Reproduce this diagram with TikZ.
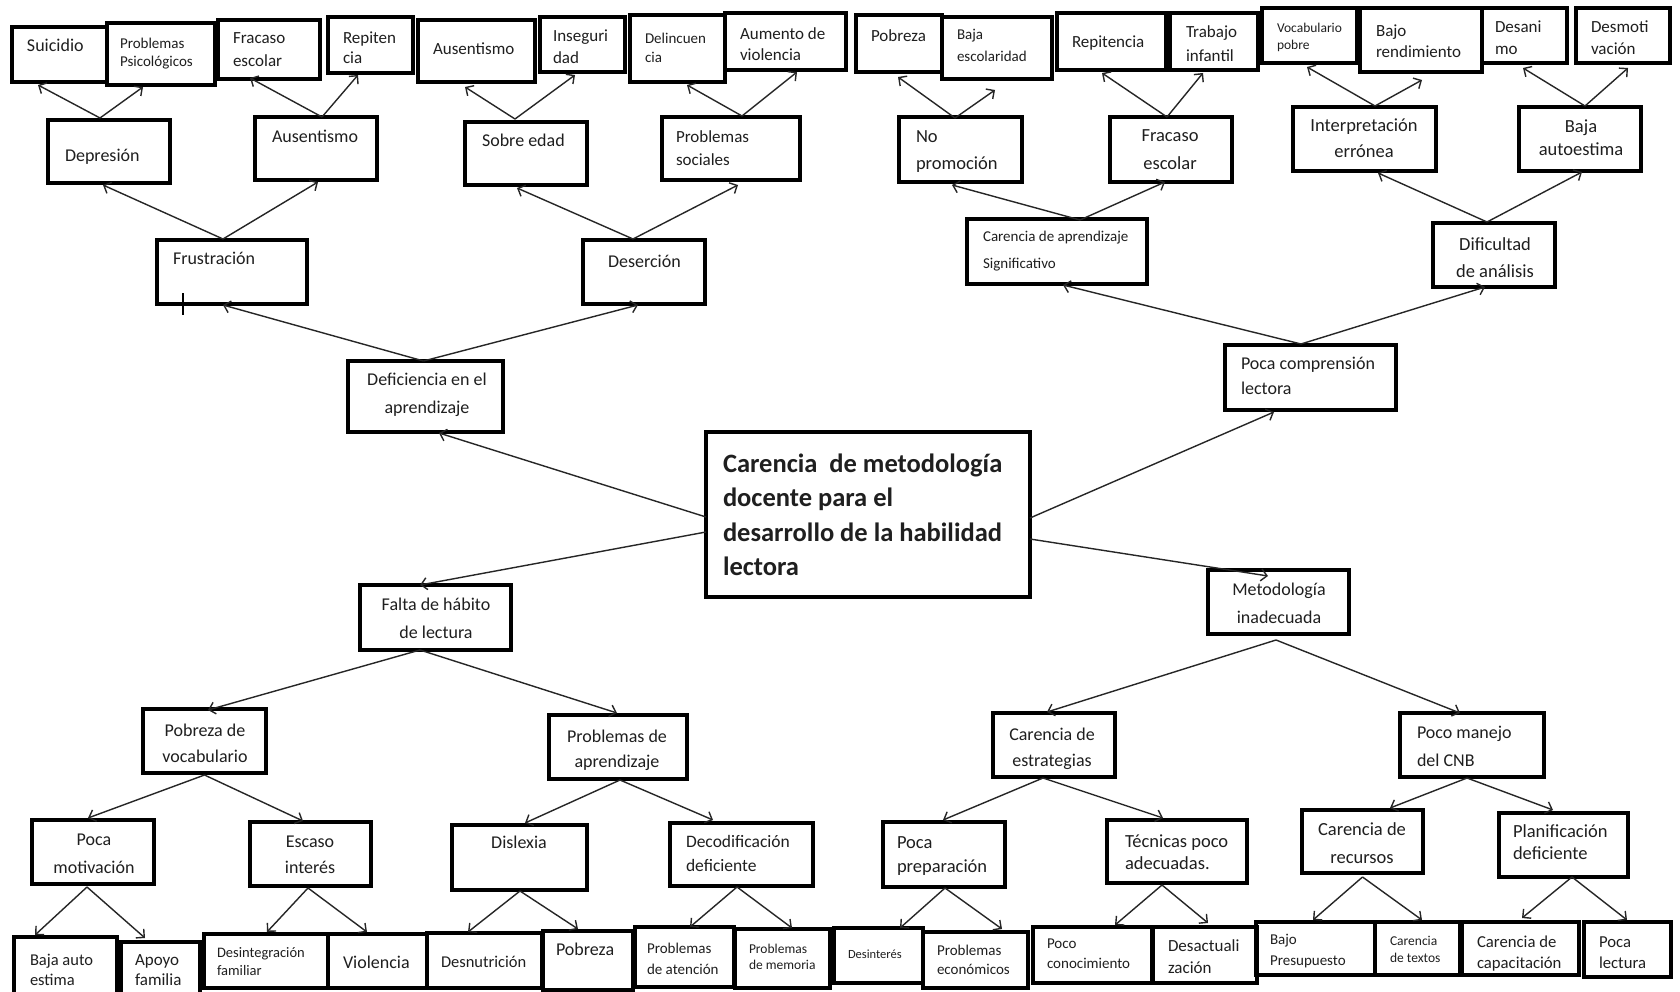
\documentclass[tikz,border=0pt]{standalone}
\usepackage{fontspec}
\setmainfont{Carlito}
\usetikzlibrary{arrows.meta,calc}
\newcommand\fs[2]{\fontsize{#1}{#2}\selectfont}
\newcommand\bx[5]{\node[bx,minimum width={(#4)-(#2)},minimum height={(#5)-(#3)}] (#1) at ({((#2)+(#4))/2},{((#3)+(#5))/2}) {};}
% text nodes: y is the baseline of the LAST line
\newcommand\tl[5]{\node[tx,anchor=base west,align=left,font=#4] (#1) at (#2,#3) {#5};}
\newcommand\tc[5]{\node[tx,anchor=base,align=center,font=#4] (#1) at (#2,#3) {#5};}
\newcommand\ar[4]{\draw[arr] ($(#1)+(#2)$) -- ($(#3)+(#4)$);}
\begin{document}
\begin{tikzpicture}[x=1pt,y=-1pt,
  bx/.style={draw=black,line width=3.2pt,rectangle,inner sep=0pt,outer sep=0pt},
  tx/.style={inner sep=0pt,outer sep=0pt,text=black!88},
  arr/.style={line width=1.4pt,draw=black!85,-{Straight Barb[length=6pt,width=12pt]}}]
\useasboundingbox (0,0) rectangle (1680,992);
\clip (0,0) rectangle (1680,992);
\fill[white] (0,0) rectangle (1680,992);
% ---------- top left ----------
\bx{sui}{12}{27}{107}{82}
\bx{psi}{107}{23}{215}{85}
\bx{fe1}{218}{20}{320}{79}
\bx{rep1}{328}{17}{413}{73}
\bx{aus2}{418}{20}{535}{82}
\bx{ins}{540}{17}{625}{72}
\bx{del}{630}{15}{725}{82}
\bx{aum}{725}{13}{846}{70}
\bx{dep}{48}{120}{170}{183}
\bx{aus1}{255}{117}{377}{180}
\bx{sob}{465}{122}{587}{185}
\bx{psoc}{662}{117}{800}{180}
\bx{fru}{157}{240}{307}{304}
\bx{des}{583}{240}{705}{304}
\bx{def}{348}{361}{503}{432}
% ---------- top right ----------
\bx{pob1}{856}{15}{942}{72}
\bx{bes}{942}{17}{1052}{79}
\bx{rep2}{1057}{13}{1166}{70}
\bx{tra}{1170}{13}{1258}{70}
\bx{voc}{1262}{8}{1357}{63}
\bx{bre}{1360}{8}{1482}{72}
\bx{dsn}{1482}{8}{1567}{63}
\bx{dsm}{1576}{8}{1670}{63}
\bx{nop}{899}{117}{1022}{182}
\bx{fe2}{1110}{117}{1232}{182}
\bx{int}{1293}{107}{1436}{171}
\bx{bau}{1519}{107}{1641}{171}
\bx{cas}{967}{219}{1147}{284}
\bx{dif}{1433}{223}{1555}{287}
\bx{pcl}{1225}{345}{1396}{410}
% ---------- centre ----------
\bx{main}{706}{432}{1030}{597}
\bx{fal}{360}{585}{511}{650}
\bx{met}{1208}{570}{1349}{634}
% ---------- bottom ----------
\bx{pv}{143}{709}{266}{773}
\bx{pa}{549}{715}{687}{779}
\bx{ce}{993}{713}{1115}{777}
\bx{pm}{1400}{713}{1544}{777}
\bx{pmo}{32}{820}{154}{884}
\bx{esc}{250}{822}{371}{886}
\bx{dis}{452}{825}{587}{890}
\bx{dec}{670}{823}{813}{886}
\bx{ppr}{883}{822}{1005}{887}
\bx{tec}{1107}{820}{1247}{883}
\bx{cre}{1302}{810}{1423}{873}
\bx{pla}{1499}{813}{1628}{877}
\bx{bae}{14}{937}{117}{998}
\bx{apo}{121}{942}{200}{998}
\bx{dfa}{204}{934}{328}{988}
\bx{vio}{328}{934}{427}{988}
\bx{dnu}{427}{933}{542}{988}
\bx{pob2}{543}{931}{633}{990}
\bx{pat}{635}{927}{734}{987}
\bx{pme}{735}{929}{830}{988}
\bx{dsi}{834}{928}{923}{983}
\bx{pec}{923}{932}{1028}{988}
\bx{pco}{1033}{927}{1152}{983}
\bx{dac}{1153}{927}{1257}{983}
\bx{bpr}{1256}{922}{1375}{975}
\bx{cte}{1375}{922}{1460}{975}
\bx{cca}{1462}{922}{1579}{975}
\bx{plc}{1584}{922}{1671}{977}
% ---------- texts ----------
\tl{t-sui}{27}{52}{\fs{18}{22}}{Suicidio}
\tl{t-psi}{120}{67}{\fs{15}{18}\color{black!75}}{Problemas\\Psicológicos}
\tl{t-fe1}{233}{67}{\fs{17}{23}}{Fracaso\\escolar}
\tl{t-rep1}{343}{64}{\fs{17}{20}}{Repiten\\cia}
\tl{t-aus2}{433}{55}{\fs{17}{20}}{Ausentismo}
\tl{t-ins}{553}{64}{\fs{17}{22}}{Inseguri\\dad}
\tl{t-del}{645}{63}{\fs{15}{19}\color{black!75}}{Delincuen\\cia}
\tl{t-aum}{740}{61}{\fs{17}{21}}{Aumento de\\violencia}
\tl{t-dep}{65}{162}{\fs{18}{22}}{Depresión}
\tl{t-aus1}{272}{143}{\fs{18}{22}}{Ausentismo}
\tl{t-sob}{482}{147}{\fs{18}{22}}{Sobre edad}
\tl{t-psoc}{676}{166}{\fs{17}{23}}{Problemas\\sociales}
\tl{t-fru}{173}{265}{\fs{18}{22}}{Frustración}
\tl{t-des}{608}{267}{\fs{18}{22}}{Deserción}
\tc{t-def}{427}{413}{\fs{18}{28}}{Deficiencia en el\\aprendizaje}
\tl{t-pob1}{871}{42}{\fs{17}{20}}{Pobreza}
\tl{t-bes}{957}{62}{\fs{15}{22}\color{black!75}}{Baja\\escolaridad}
\tl{t-rep2}{1072}{48}{\fs{17}{20}}{Repitencia}
\tl{t-tra}{1186}{62}{\fs{17}{24}}{Trabajo\\infantil}
\tl{t-voc}{1277}{50}{\fs{13.5}{17}\color{black!75}}{Vocabulario\\pobre}
\tl{t-bre}{1376}{58}{\fs{17}{21}}{Bajo\\rendimiento}
\tl{t-dsn}{1495}{55}{\fs{17}{22}}{Desani\\mo}
\tl{t-dsm}{1591}{55}{\fs{17}{22}}{Desmoti\\vación}
\tl{t-nop}{916}{170}{\fs{18.5}{27}}{No\\promoción}
\tc{t-fe2}{1170}{170}{\fs{18.5}{28}}{Fracaso\\escolar}
\tc{t-int}{1364}{158}{\fs{18.5}{26}}{Interpretación\\errónea}
\tc{t-bau}{1581}{156}{\fs{18.5}{23}}{Baja\\autoestima}
\tl{t-cas}{983}{269}{\fs{15}{27}}{Carencia de aprendizaje\\Significativo}
\tc{t-dif}{1495}{277}{\fs{18.5}{27}}{Dificultad\\de análisis}
\tl{t-pcl}{1241}{394}{\fs{18}{25}}{Poca comprensión\\lectora}
\tl{t-main}{723}{575.5}{\bfseries\fs{26.5}{34.5}}{Carencia\ \ de metodología\\docente para el\\desarrollo de la habilidad\\lectora}
\tc{t-fal}{436}{638}{\fs{18}{28}}{Falta de hábito\\de lectura}
\tc{t-met}{1279}{623}{\fs{18}{28}}{Metodología\\inadecuada}
\tc{t-pv}{205}{762}{\fs{18}{26}}{Pobreza de\\vocabulario}
\tc{t-pa}{617}{767}{\fs{18}{25}}{Problemas de\\aprendizaje}
\tc{t-ce}{1052}{766}{\fs{18}{26}}{Carencia de\\estrategias}
\tl{t-pm}{1417}{766}{\fs{18}{28}}{Poco manejo\\del CNB}
\tc{t-pmo}{94}{873}{\fs{18}{28}}{Poca\\motivación}
\tc{t-esc}{310}{873}{\fs{18}{26}}{Escaso\\interés}
\tc{t-dis}{519}{848}{\fs{18}{22}}{Dislexia}
\tl{t-dec}{686}{871}{\fs{17.5}{24}}{Decodificación\\deficiente}
\tl{t-ppr}{897}{872}{\fs{18.5}{24}}{Poca\\preparación}
\tl{t-tec}{1125}{869}{\fs{18.5}{22}}{Técnicas poco\\adecuadas.}
\tc{t-cre}{1362}{863}{\fs{18.5}{28}}{Carencia de\\recursos}
\tl{t-pla}{1513}{859}{\fs{18.5}{22}}{Planificación\\deficiente}
\tl{t-bae}{30}{985}{\fs{16.5}{20}}{Baja auto\\estima}
\tl{t-apo}{135}{985}{\fs{17}{20}}{Apoyo\\familia}
\tl{t-dfa}{217}{975}{\fs{14.5}{18}\color{black!75}}{Desintegración\\familiar}
\tl{t-vio}{343}{968}{\fs{18}{22}}{Violencia}
\tl{t-dnu}{441}{967}{\fs{16.5}{20}}{Desnutrición}
\tl{t-pob2}{556}{955}{\fs{18}{22}}{Pobreza}
\tl{t-pat}{647}{974}{\fs{15}{21}\color{black!75}}{Problemas\\de atención}
\tl{t-pme}{749}{969}{\fs{13.5}{16}\color{black!70}}{Problemas\\de memoria}
\tl{t-dsi}{848}{958}{\fs{12.5}{16}\color{black!75}}{Desinterés}
\tl{t-pec}{937}{974}{\fs{15}{19}\color{black!75}}{Problemas\\económicos}
\tl{t-pco}{1047}{968}{\fs{15}{20}\color{black!75}}{Poco\\conocimiento}
\tl{t-dac}{1168}{973}{\fs{17}{22}}{Desactuali\\zación}
\tl{t-bpr}{1270}{965}{\fs{15}{21}\color{black!75}}{Bajo\\Presupuesto}
\tl{t-cte}{1390}{962}{\fs{13.5}{17}\color{black!75}}{Carencia\\de textos}
\tl{t-cca}{1477}{968}{\fs{16.7}{21}}{Carencia de\\capacitación}
\tl{t-plc}{1599}{968}{\fs{16.7}{21}}{Poca\\lectura}
% ---------- cursor mark ----------
\draw[line width=1.1pt] ($(fru.south west)+(26,-11)$) -- ($(fru.south west)+(26,11)$);
% ---------- arrows: top left ----------
\ar{dep.north}{-9,-2}{sui.south}{-21.5,3}
\ar{dep.north}{-9,-2}{psi.south}{-18,2}
\ar{aus1.north}{6,0}{fe1.south}{-19,-1}
\ar{aus1.north}{6,0}{rep1.south}{-12.5,2}
\ar{sob.north}{-11,-3}{aus2.south}{-11.5,5}
\ar{sob.north}{-11,-3}{ins.south}{-7.5,3}
\ar{psoc.north}{11,-1}{del.south}{9.5,3}
\ar{psoc.north}{11,-1}{aum.south}{11.5,2}
\ar{fru.north}{-9,-1}{dep.south}{-6,2}
\ar{fru.north}{-9,-1}{aus1.south}{2,2}
\ar{des.north}{-11,-1}{sob.south}{-9,3}
\ar{des.north}{-11,-1}{psoc.south}{7,5}
\ar{def.north}{-2,0}{fru.south}{-9,1}
\ar{def.north}{-2,0}{des.south}{-6,1}
% ---------- arrows: centre ----------
\ar{main.west}{0,2.5}{def.south}{13.5,1}
\ar{main.west}{0,17.5}{fal.north}{-15.5,0}
\ar{main.east}{0,3.5}{pcl.south}{-36.5,2}
\ar{main.east}{0,24.5}{met.north}{-10.5,6}
% ---------- arrows: top right ----------
\ar{pcl.north}{-9.5,-1}{cas.south}{6,1}
\ar{pcl.north}{-9.5,-1}{dif.south}{-9,0}
\ar{nop.north}{-5.5,1}{pob1.south}{-1,5}
\ar{nop.north}{-5.5,1}{bes.south}{-2,11}
\ar{fe2.north}{-4,0}{rep2.south}{-9.5,3}
\ar{fe2.north}{-4,0}{tra.south}{-11,3}
\ar{cas.north}{23,1}{nop.south}{-8.5,3}
\ar{cas.north}{23,1}{fe2.south}{-6,0}
\ar{int.north}{10.5,-1}{voc.south}{-2.5,4}
\ar{int.north}{10.5,-1}{bre.south}{1,8}
\ar{bau.north}{5,-1}{dsn.south}{-1.5,5}
\ar{bau.north}{5,-1}{dsm.south}{5,5}
\ar{dif.north}{-7,-1}{int.south}{13.5,2}
\ar{dif.north}{-7,-1}{bau.south}{2,1}
% ---------- arrows: bottom ----------
\ar{fal.south}{-15.5,0}{pv.north}{3.5,1}
\ar{fal.south}{-15.5,0}{pa.north}{-1,-2}
\ar{met.south}{-2.5,6}{ce.north}{-7,-1}
\ar{met.south}{-2.5,6}{pm.north}{-12,0}
\ar{pv.south}{0,2}{pmo.north}{-5,-2}
\ar{pv.south}{0,2}{esc.north}{-7.5,-1}
\ar{pmo.south}{-6,3}{bae.north}{-30.5,-2}
\ar{pmo.south}{-6,3}{apo.north}{-15.5,-4}
\ar{esc.south}{-2.5,2}{dfa.north}{1,-2}
\ar{esc.south}{-2.5,2}{vio.north}{-10.5,-2}
\ar{pa.south}{2,1}{dis.north}{5.5,-2}
\ar{pa.south}{2,1}{dec.north}{-28.5,-3}
\ar{dis.south}{0.5,1}{dnu.north}{-16.5,-1}
\ar{dis.south}{0.5,1}{pob2.north}{-10,-2}
\ar{dec.south}{-4.5,1}{pat.north}{5.5,0}
\ar{dec.south}{-4.5,1}{pme.north}{9.5,-1}
\ar{ce.south}{-11,1}{ppr.north}{-1,-2}
\ar{ce.south}{-11,1}{tec.north}{-14,-2}
\ar{ppr.south}{1,1}{dsi.north}{21.5,0}
\ar{ppr.south}{1,1}{pec.north}{26.5,-3}
\ar{tec.south}{-15,2}{pco.north}{22.5,-2}
\ar{tec.south}{-15,2}{dac.north}{3,-4}
\ar{pm.south}{-5,1}{cre.north}{27.5,-2}
\ar{pm.south}{-5,1}{pla.north}{-10.5,-3}
\ar{cre.south}{0,4}{bpr.north}{-2.5,-2}
\ar{cre.south}{0,4}{cte.north}{4.5,-2}
\ar{pla.south}{8.5,0}{cca.north}{1.5,-4}
\ar{pla.south}{8.5,0}{plc.north}{-0.5,-2}
\end{tikzpicture}
\end{document}
